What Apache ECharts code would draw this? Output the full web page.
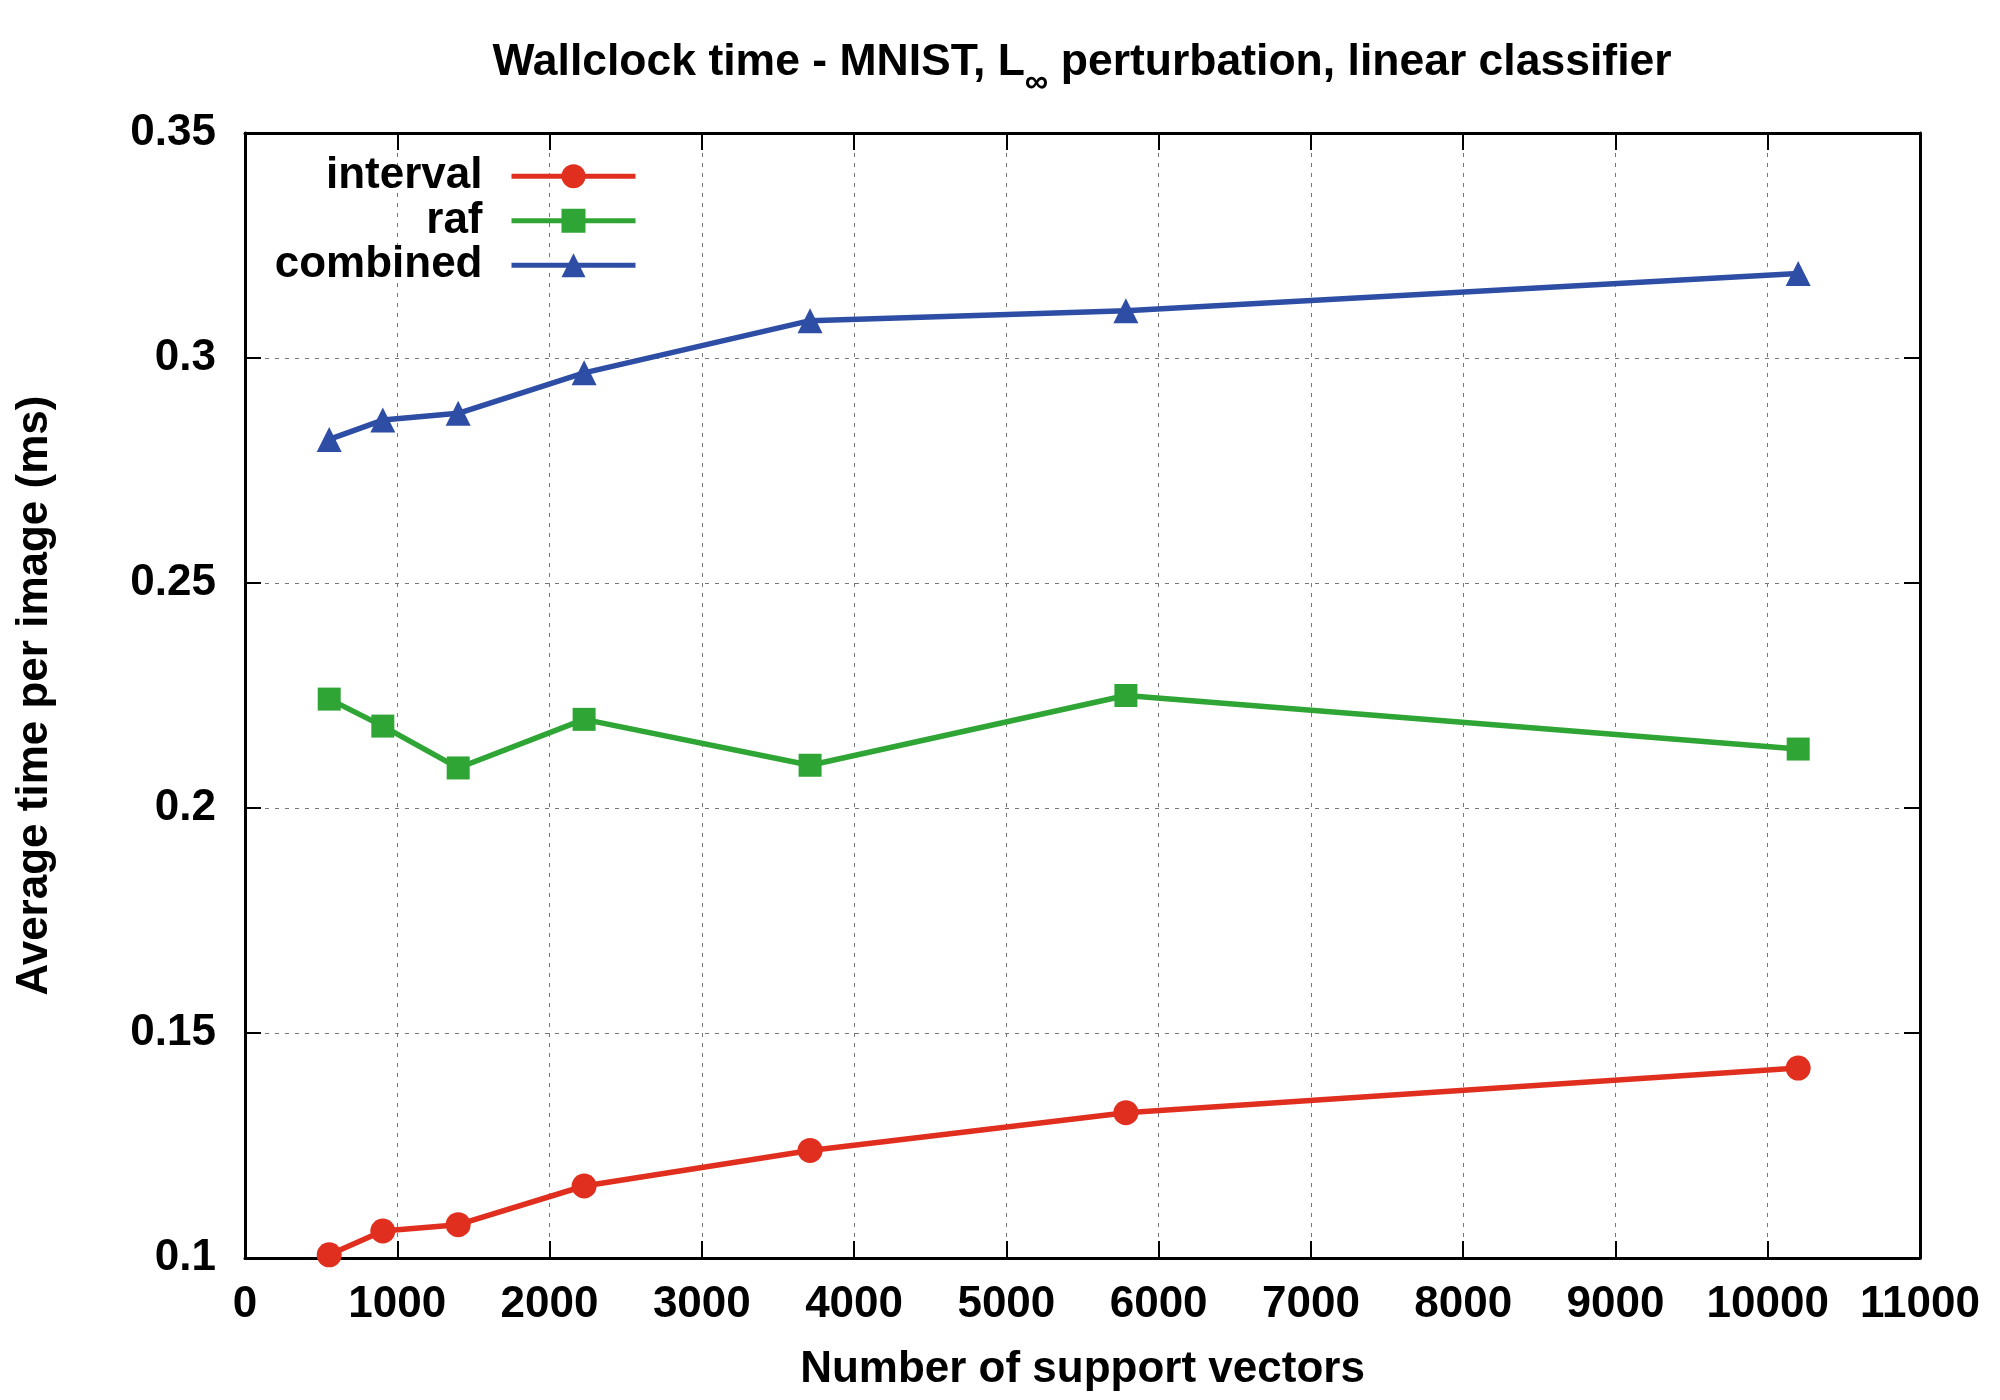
<!DOCTYPE html>
<html>
<head>
<meta charset="utf-8">
<script src="https://cdn.jsdelivr.net/npm/echarts@6/dist/echarts.min.js"></script>
<style>html,body{margin:0;padding:0;background:#fff}#c{width:2000px;height:1400px}</style>
</head>
<body>
<div id="c"></div>
<script>
var supportVectors = [553, 905, 1400, 2227, 3711, 5785, 10200];
var intervalTimes = [0.1007, 0.1060, 0.1074, 0.1160, 0.1239, 0.1323, 0.1422];
var rafTimes = [0.2242, 0.2182, 0.2089, 0.2197, 0.2095, 0.2250, 0.2131];
var combinedTimes = [0.2819, 0.2862, 0.2877, 0.2967, 0.3083, 0.3105, 0.3188];
var seriesNames = ['interval', 'raf', 'combined'];

var FONT = 'Liberation Sans';
var FS = 44;
function pairs(ys) { return supportVectors.map(function (x, i) { return [x, ys[i]]; }); }

var chart = echarts.init(document.getElementById('c'), null, {renderer: 'canvas'});
var gridStyle = {show: true, lineStyle: {color: '#777', width: 1, type: [4, 6]}};
var labelStyle = {fontFamily: FONT, fontWeight: 'bold', fontSize: FS, color: '#000'};
var axisLine = {show: true, onZero: false, lineStyle: {color: '#000', width: 3}};
var tickX = {show: true, inside: true, length: 17, lineStyle: {color: '#000', width: 2}};
var tickY = {show: true, inside: true, length: 16, lineStyle: {color: '#000', width: 2}};
var XR = {type: 'value', min: 0, max: 11000, interval: 1000};
var YR = {type: 'value', min: 0.1, max: 0.35, interval: 0.05};

chart.setOption({
  animation: false,
  backgroundColor: '#fff',
  graphic: [{
    type: 'text', x: 1082, y: 63, z: 100,
    style: {
      text: '{m|Wallclock time - MNIST, L}{s|∞}{m| perturbation, linear classifier}',
      align: 'center', verticalAlign: 'middle',
      fill: '#000',
      rich: {
        m: {fontFamily: FONT, fontWeight: 'bold', fontSize: 44.5, lineHeight: 48, fill: '#000'},
        s: {fontFamily: FONT, fontWeight: 'bold', fontSize: 33, lineHeight: 33, padding: [40, 0, 0, 0], fill: '#000'}
      }
    }
  }],
  grid: {left: 245, right: 80, top: 133, bottom: 142, containLabel: false},
  legend: {
    data: seriesNames,
    orient: 'vertical', align: 'right',
    right: 1362, top: 154,
    padding: 0, itemGap: 0,
    itemWidth: 124, itemHeight: 30,
    lineStyle: {width: 5},
    textStyle: {fontFamily: FONT, fontWeight: 'bold', fontSize: FS, color: '#000', lineHeight: 44.5, padding: [0, 24, 0, 0]}
  },
  xAxis: [
    Object.assign({}, XR, {
      position: 'bottom',
      name: 'Number of support vectors', nameLocation: 'middle', nameGap: 90, nameMoveOverlap: false,
      nameTextStyle: labelStyle,
      axisLine: axisLine, axisTick: tickX, splitLine: gridStyle,
      axisLabel: Object.assign({margin: 25, formatter: function (v) { return String(v); }}, labelStyle)
    }),
    Object.assign({}, XR, {position: 'top', axisLine: axisLine, axisTick: tickX, axisLabel: {show: false}, splitLine: {show: false}})
  ],
  yAxis: [
    Object.assign({}, YR, {
      position: 'left',
      name: 'Average time per image (ms)', nameLocation: 'middle', nameGap: 188, nameRotate: 90, nameMoveOverlap: false,
      nameTextStyle: labelStyle,
      axisLine: axisLine, axisTick: tickY, splitLine: gridStyle,
      axisLabel: Object.assign({margin: 29, formatter: function (v) { return String(+v.toFixed(2)); }}, labelStyle)
    }),
    Object.assign({}, YR, {position: 'right', axisLine: axisLine, axisTick: tickY, axisLabel: {show: false}, splitLine: {show: false}})
  ],
  series: [{
    name: seriesNames[0], type: 'line', data: pairs(intervalTimes),
    symbol: 'circle', symbolSize: 25, showAllSymbol: true,
    lineStyle: {color: '#E02F1F', width: 5.5}, itemStyle: {color: '#E02F1F'}
  }, {
    name: seriesNames[1], type: 'line', data: pairs(rafTimes),
    symbol: 'rect', symbolSize: 23,
    lineStyle: {color: '#2FA535', width: 5.5}, itemStyle: {color: '#2FA535'}
  }, {
    name: seriesNames[2], type: 'line', data: pairs(combinedTimes),
    symbol: 'triangle', symbolSize: 25,
    lineStyle: {color: '#2E4EA5', width: 5.5}, itemStyle: {color: '#2E4EA5'}
  }]
});
</script>
</body>
</html>
